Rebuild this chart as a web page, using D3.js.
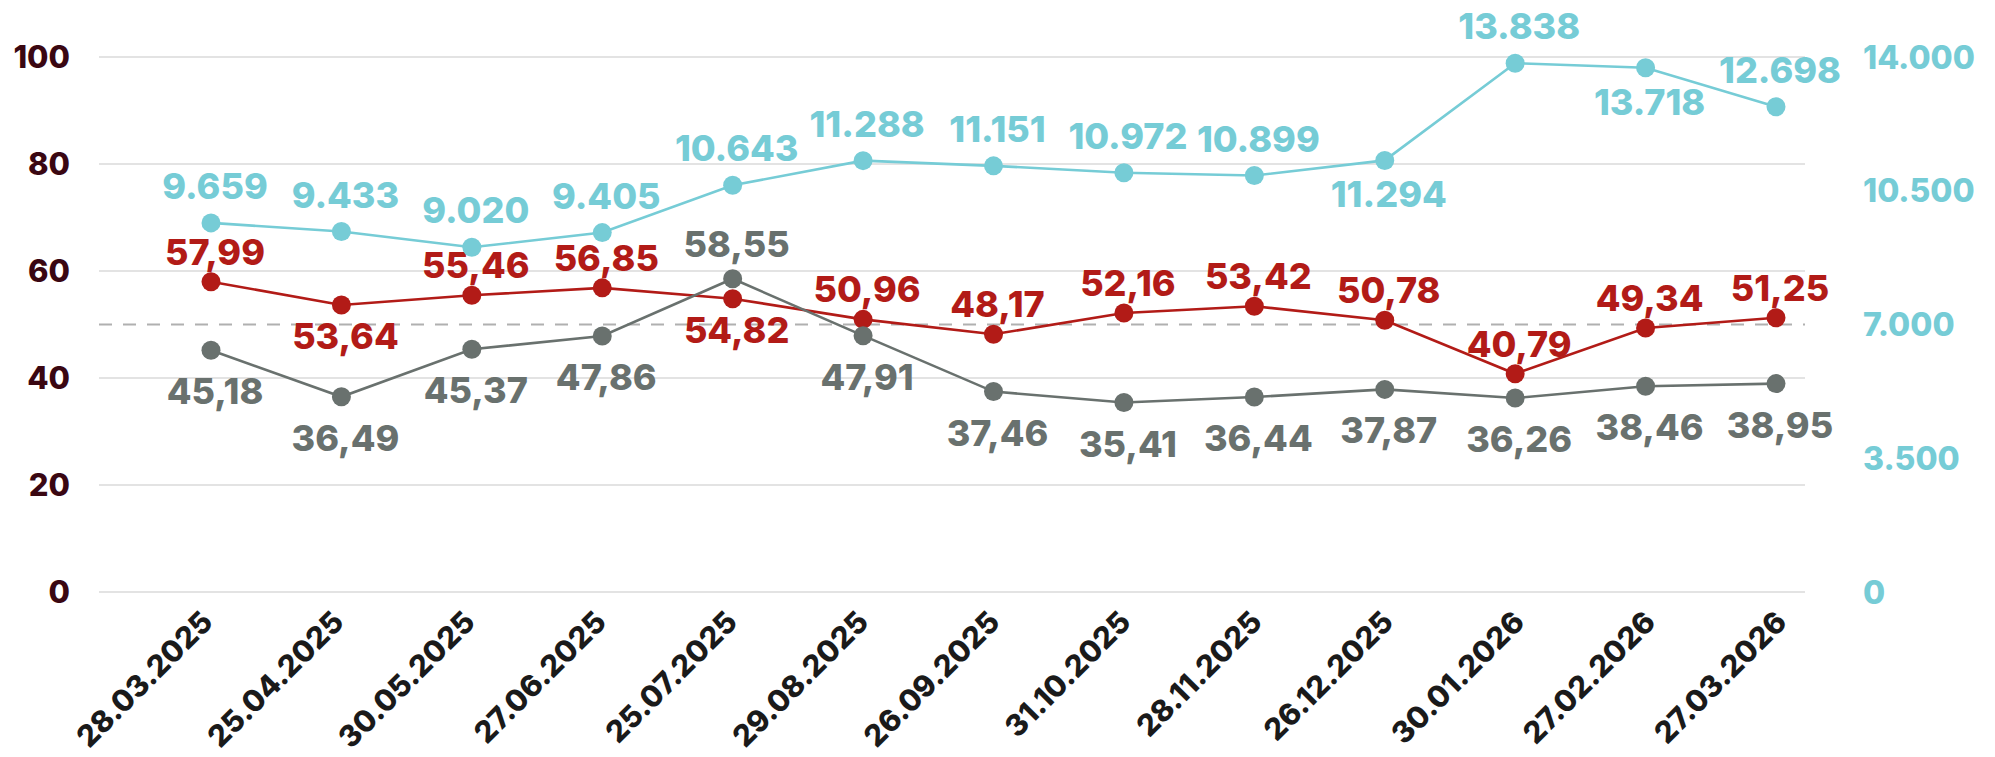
<!DOCTYPE html>
<html>
<head>
<meta charset="utf-8">
<script src="https://cdn.jsdelivr.net/npm/d3@7/dist/d3.min.js"></script>
<style>
  html, body { margin: 0; padding: 0; background: #ffffff; }
  svg { display: block; }
  text { font-family: Inter, "Open Sans", "DejaVu Sans", sans-serif; font-weight: 700; }
</style>
</head>
<body>
<svg id="chart" width="1995" height="757"></svg>
<script>
// ---- data ----
const dates = ["28.03.2025","25.04.2025","30.05.2025","27.06.2025","25.07.2025","29.08.2025","26.09.2025","31.10.2025","28.11.2025","26.12.2025","30.01.2026","27.02.2026","27.03.2026"];
const cyanValues = [9659, 9433, 9020, 9405, 10643, 11288, 11151, 10972, 10899, 11294, 13838, 13718, 12698];
const redValues  = [57.99, 53.64, 55.46, 56.85, 54.82, 50.96, 48.17, 52.16, 53.42, 50.78, 40.79, 49.34, 51.25];
const grayValues = [45.18, 36.49, 45.37, 47.86, 58.55, 47.91, 37.46, 35.41, 36.44, 37.87, 36.26, 38.46, 38.95];
const leftTicks  = [0, 20, 40, 60, 80, 100];
const rightTicks = [0, 3500, 7000, 10500, 14000];
const refLine = 50;

// label placement (a = above, b = below)
const cyanPos = ["a","a","a","a","a","a","a","a","a","b","a","b","a"];
const redPos  = ["a","b","a","a","b","a","a","a","a","a","a","a","a"];
const grayPos = ["b","b","b","b","a","b","b","b","b","b","b","b","b"];

// ---- styles ----
const C_CYAN = "#76CCD6", C_RED = "#B21B17", C_GRAY = "#69716E";
const C_LEFT = "#3A0712", C_DATE = "#1A1A1A";

const loc = d3.formatLocale({decimal: ",", thousands: ".", grouping: [3], currency: ["", ""]});
const fmtInt = loc.format(",d");
const fmtDec = loc.format(",.2f");

const svg = d3.select("#chart");
svg.append("rect").attr("width", 1995).attr("height", 757).attr("fill", "#fff");

const gridX0 = 99, gridX1 = 1805;
const x = d3.scalePoint().domain(dates).range([211, 1776]);
const xLab = d3.scalePoint().domain(dates).range([214, 1788]);
const yL = d3.scaleLinear().domain([0, 100]).range([592, 57]);
const yR = d3.scaleLinear().domain([0, 14000]).range([592, 57]);

// gridlines
svg.append("g").selectAll("line").data(leftTicks).join("line")
  .attr("x1", gridX0).attr("x2", gridX1)
  .attr("y1", d => yL(d)).attr("y2", d => yL(d))
  .attr("stroke", "#DADADA").attr("stroke-width", 1.6);

// dashed reference line
svg.append("line")
  .attr("x1", gridX0).attr("x2", gridX1)
  .attr("y1", yL(refLine)).attr("y2", yL(refLine))
  .attr("stroke", "#B0B0B0").attr("stroke-width", 2)
  .attr("stroke-dasharray", "13 11");

// left axis
const leftAxis = d3.axisLeft(yL).tickValues(leftTicks).tickSize(0).tickPadding(0).tickFormat(d3.format("d"));
const gl = svg.append("g").attr("transform", "translate(70,0)").call(leftAxis);
gl.select(".domain").remove();
gl.selectAll("text").attr("fill", C_LEFT).style("font-size", "31px").style("font-weight", 800).attr("dy", "0.35em");

// right axis
const rightAxis = d3.axisRight(yR).tickValues(rightTicks).tickSize(0).tickPadding(0).tickFormat(fmtInt);
const gr = svg.append("g").attr("transform", "translate(1863,0)").call(rightAxis);
gr.select(".domain").remove();
gr.selectAll("text").attr("fill", C_CYAN).style("font-size", "32px").style("font-weight", 800).attr("dy", "0.35em");

// x axis labels (rotated)
const bottomAxis = d3.axisBottom(xLab).tickSize(0).tickPadding(0);
const gb = svg.append("g").attr("transform", "translate(0,624)").call(bottomAxis);
gb.select(".domain").remove();
gb.selectAll("text")
  .attr("fill", C_DATE).style("font-size", "30px").style("font-weight", 800)
  .attr("text-anchor", "end").attr("dy", 0).attr("y", 0)
  .attr("transform", "rotate(-45)");

// series
function drawSeries(values, yScale, color, pos, fmt, offA, offB) {
  const data = values.map((v, i) => ({d: dates[i], v, p: pos[i]}));
  const line = d3.line().x(d => x(d.d)).y(d => yScale(d.v));
  const g = svg.append("g");
  g.append("path").datum(data).attr("d", line)
    .attr("fill", "none").attr("stroke", color).attr("stroke-width", 2.6);
  g.selectAll("circle").data(data).join("circle")
    .attr("cx", d => x(d.d)).attr("cy", d => yScale(d.v)).attr("r", 9.5)
    .attr("fill", color);
  g.selectAll("text").data(data).join("text")
    .attr("x", d => x(d.d) + 4)
    .attr("y", d => yScale(d.v) + (d.p === "a" ? offA : offB))
    .attr("text-anchor", "middle")
    .attr("fill", color).style("font-size", "36px").style("font-weight", 800)
    .text(d => fmt(d.v));
}

drawSeries(redValues, yL, C_RED, redPos, fmtDec, -17, 44);
drawSeries(grayValues, yL, C_GRAY, grayPos, fmtDec, -22, 54);
drawSeries(cyanValues, yR, C_CYAN, cyanPos, fmtInt, -24, 47);
</script>
</body>
</html>
